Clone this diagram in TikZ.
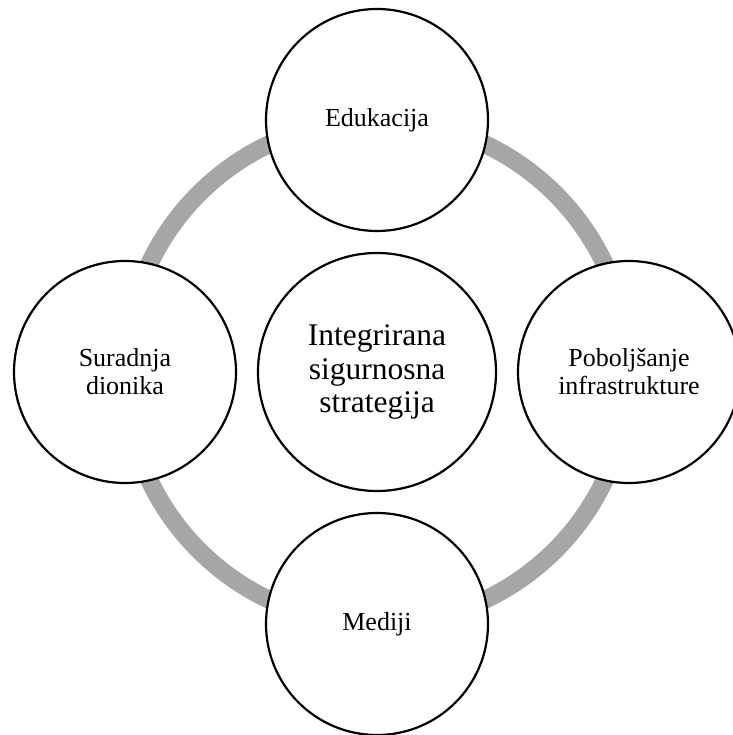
\documentclass[tikz,border=0pt]{standalone}
\usepackage{fontspec}
\setmainfont{Liberation Serif}
\usepackage{tikz}
\usetikzlibrary{positioning}
\usepackage{xcolor}
\definecolor{ringgray}{RGB}{166,166,166}

\begin{document}
\begin{tikzpicture}[x=1pt,y=1pt,align=center, node distance=252pt, on grid,
            bubble/.style={circle,draw=black,line width=2.2pt,fill=white,inner sep=0pt,minimum size=222pt,font=\fontsize{26}{28}\selectfont},
            hub/.style={bubble,minimum size=238pt,font=\fontsize{31.5}{33.5}\selectfont},
            ring/.style={draw=ringgray,line width=18pt}]

            \useasboundingbox (0,0) rectangle (732,735);
            \node (centre)[hub] at (377,363) {Integrirana\\sigurnosna\\strategija};
            \draw[ring] (centre) circle (252);
            \node (edu)[bubble, above=of centre] {Edukacija};
            \node (infra)[bubble, right=of centre] {Poboljšanje\\infrastrukture};
            \node (media)[bubble, below=of centre] {Mediji};
            \node (dionici)[bubble, left=of centre] {Suradnja\\dionika};
         \end{tikzpicture}
\end{document}
